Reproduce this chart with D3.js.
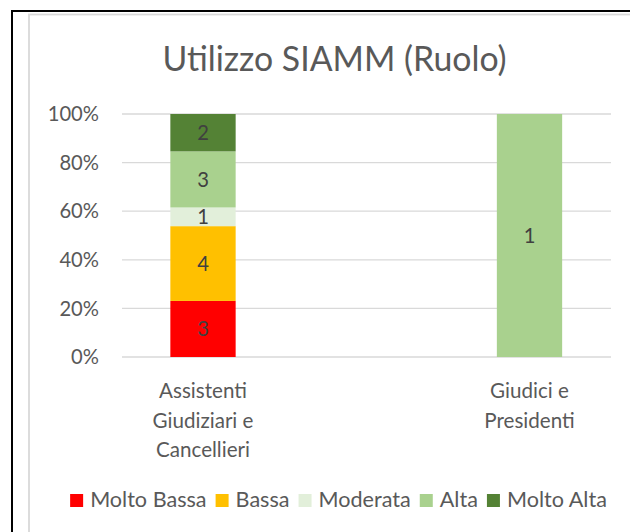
<!DOCTYPE html>
<html>
<head>
<meta charset="utf-8">
<script src="https://cdn.jsdelivr.net/npm/d3@7"></script>
<style>
  html, body { margin: 0; padding: 0; background: #fff; }
  svg { display: block; }
  text { font-family: Lato, "Open Sans", sans-serif; }
</style>
</head>
<body>
<svg id="chart" width="630" height="532"></svg>
<script>
// ---- data ----
const title = "Utilizzo SIAMM (Ruolo)";
const categories = ["Assistenti Giudiziari e Cancellieri", "Giudici e Presidenti"];
const categoryLines = [["Assistenti", "Giudiziari e", "Cancellieri"], ["Giudici e", "Presidenti"]];
const seriesNames = ["Molto Bassa", "Bassa", "Moderata", "Alta", "Molto Alta"];
const moltoBassa = [3, 0];
const bassa = [4, 0];
const moderata = [1, 0];
const alta = [3, 1];
const moltoAlta = [2, 0];
const seriesColors = ["#FF0000", "#FFC000", "#E2EFDA", "#A9D18E", "#548235"];
const yTicks = [0, 0.2, 0.4, 0.6, 0.8, 1.0];
const yTickLabels = ["0%", "20%", "40%", "60%", "80%", "100%"];

const seriesValues = [moltoBassa, bassa, moderata, alta, moltoAlta];
const rows = categories.map((c, i) => {
  const r = { category: c };
  seriesNames.forEach((s, k) => { r[s] = seriesValues[k][i]; });
  return r;
});

// ---- layout ----
const svg = d3.select("#chart");
const textColor = "#595959";
const labelColor = "#404040";
const fsAxis = 20.2;
const fsCat = 20.6;
const fsLegend = 21.6;
const fsLabel = 20.2;

// frames
svg.append("rect").attr("x", 12).attr("y", 11).attr("width", 640).attr("height", 540)
  .attr("fill", "none").attr("stroke", "#000").attr("stroke-width", 2);
svg.append("rect").attr("x", 29).attr("y", 14.5).attr("width", 640).attr("height", 540)
  .attr("fill", "none").attr("stroke", "#D9D9D9").attr("stroke-width", 1.8);

const y = d3.scaleLinear().domain([0, 1]).range([357, 114]);
const x = d3.scaleBand().domain(categories).range([39.75, 692.75])
  .paddingInner(0.8).paddingOuter(0.4);
const gridX0 = 122, gridX1 = 611;

// title
svg.append("text").attr("x", 334.5).attr("y", 71).attr("text-anchor", "middle")
  .attr("fill", textColor).style("font-size", "33.8px").text(title);

// gridlines
svg.append("g").selectAll("line").data(yTicks).join("line")
  .attr("x1", gridX0).attr("x2", gridX1)
  .attr("y1", d => y(d)).attr("y2", d => y(d))
  .attr("stroke", "#D9D9D9").attr("stroke-width", 1.3);

// y axis labels
svg.append("g").selectAll("text").data(yTicks).join("text")
  .attr("x", 99).attr("y", d => y(d)).attr("dy", "0.36em")
  .attr("text-anchor", "end").attr("fill", textColor)
  .style("font-size", fsAxis + "px")
  .text((d, i) => yTickLabels[i]);

// stacked bars
const stack = d3.stack().keys(seriesNames).offset(d3.stackOffsetExpand);
const stacked = stack(rows);

const layers = svg.append("g").selectAll("g").data(stacked).join("g")
  .attr("fill", (d, i) => seriesColors[i]);
layers.selectAll("rect").data(d => d.filter(p => p[1] - p[0] > 0)).join("rect")
  .attr("x", d => x(d.data.category))
  .attr("width", x.bandwidth())
  .attr("y", d => y(d[1]))
  .attr("height", d => y(d[0]) - y(d[1]));

// data labels
stacked.forEach((layer) => {
  layer.forEach(p => {
    const v = p.data[layer.key];
    if (!v) return;
    svg.append("text")
      .attr("x", x(p.data.category) + x.bandwidth() / 2)
      .attr("y", y((p[0] + p[1]) / 2)).attr("dy", "0.36em")
      .attr("text-anchor", "middle").attr("fill", labelColor)
      .style("font-size", fsLabel + "px")
      .text(v);
  });
});

// category labels
categories.forEach((c, i) => {
  const t = svg.append("text").attr("text-anchor", "middle").attr("fill", textColor)
    .style("font-size", fsCat + "px");
  categoryLines[i].forEach((ln, j) => {
    t.append("tspan").attr("x", x(c) + x.bandwidth() / 2).attr("y", 398 + j * 29.5).text(ln);
  });
});

// legend
const legend = svg.append("g");
const sq = 13, gapSqText = 7, gapItem = 9;
const items = seriesNames.map((s, i) => {
  const g = legend.append("g");
  g.append("rect").attr("width", sq).attr("height", sq).attr("y", -sq).attr("fill", seriesColors[i]);
  const t = g.append("text").attr("x", sq + gapSqText).attr("y", 0)
    .attr("fill", textColor).style("font-size", fsLegend + "px").text(s);
  return { g, w: sq + gapSqText + t.node().getComputedTextLength() };
});
const total = d3.sum(items, d => d.w) + gapItem * (items.length - 1);
let cx = 338.5 - total / 2;
items.forEach(it => {
  it.g.attr("transform", `translate(${cx},507)`);
  cx += it.w + gapItem;
});
</script>
</body>
</html>
